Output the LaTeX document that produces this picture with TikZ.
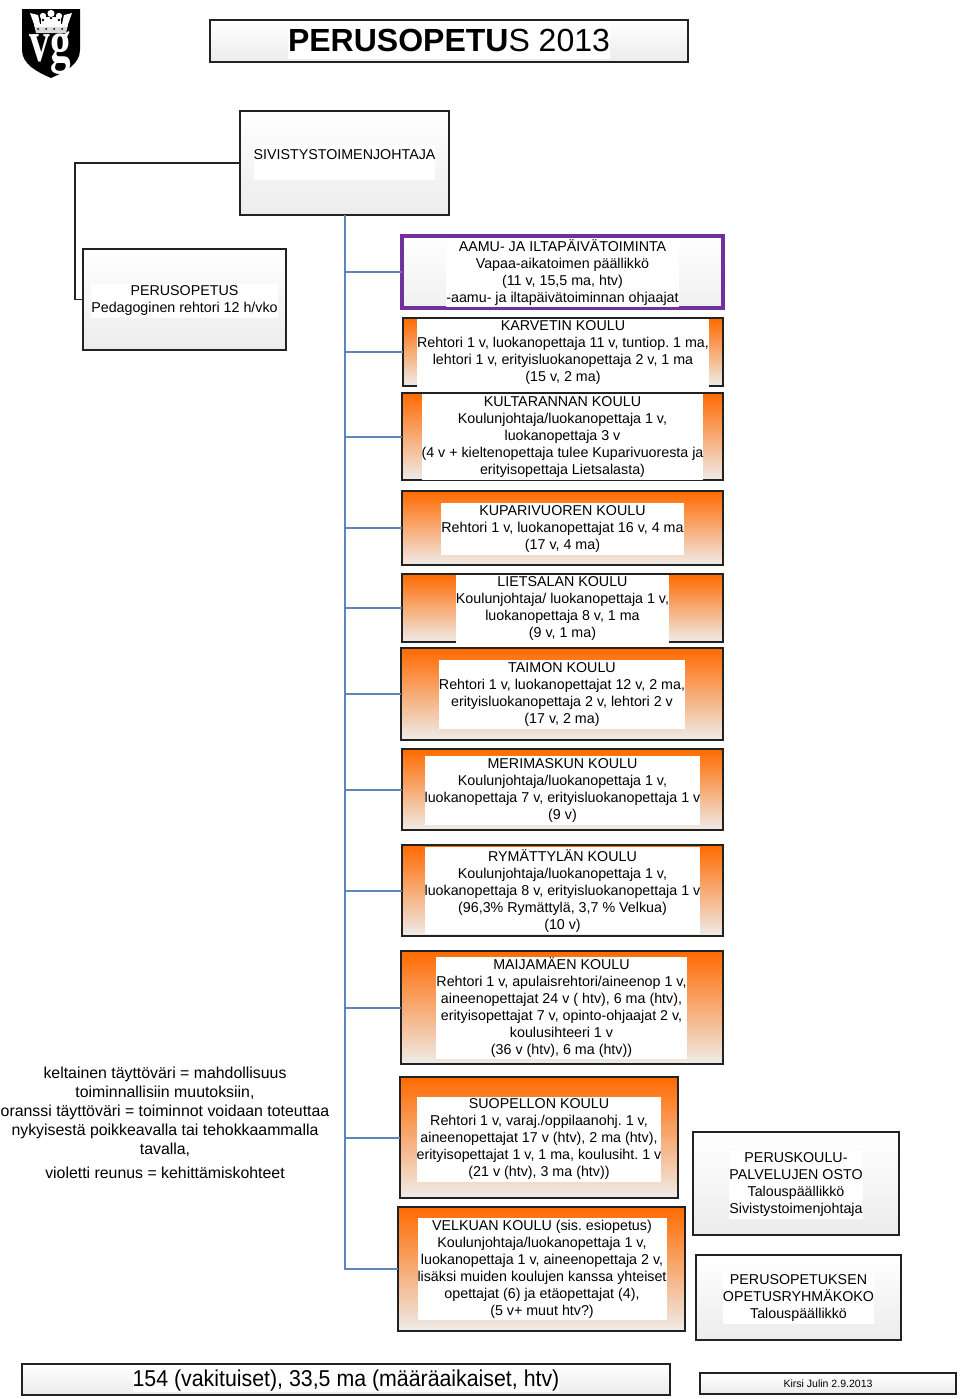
\documentclass[tikz,border=0pt]{standalone}
\usepackage{fontspec}
\setmainfont{Liberation Sans}
\newfontfamily\logofont{Liberation Serif}
\definecolor{edge}{HTML}{222222}
\definecolor{trunk}{HTML}{5B86B8}
\definecolor{violet}{HTML}{7030A0}
\definecolor{orng}{HTML}{FF6A00}
\definecolor{pale}{HTML}{EFECE9}
\tikzset{
  frame/.style={draw=edge,line width=1pt,inner sep=0pt,outer sep=0pt},
  grayfill/.style={frame,top color=white,bottom color=gray!15},
  orangefill/.style={frame,top color=orng,bottom color=pale},
  purplefill/.style={frame,draw=violet,line width=3pt,top color=white,bottom color=gray!12},
  txt/.style={fill=white,align=center,inner sep=0pt,yshift=-0.6pt,font=\fontsize{10.7}{12.75}\selectfont,text=black},
  link/.style={draw=trunk,line width=1.5pt},
  blk/.style={draw=edge,line width=1pt}
}
\newcommand{\bx}[6]{%
  \pgfmathsetmacro\bw{(#5-#3)*0.75}\pgfmathsetmacro\bh{(#6-#4)*0.75}%
  \node[#2,anchor=north west,minimum width=\bw pt,minimum height=\bh pt] (#1) at (#3,#4) {};}
\newcommand{\tx}[5]{%
  \pgfmathsetmacro\th{#4*0.75}%
  \node[txt,minimum height=\th pt] (#1) at (#2,#3) {#5};}
\begin{document}
\frenchspacing
\begin{tikzpicture}[x=0.75pt,y=-0.75pt]
\useasboundingbox (0,0) rectangle (960,1399);
\fill[white] (0,0) rectangle (960,1399);
% logo
\fill[black] (22,9) -- (80,9) -- (80,50) .. controls (80,64) and (65,72) .. (51,78) .. controls (37,72) and (22,64) .. (22,50) -- cycle;
\fill[white!85!black] (36,33) -- (66,33) -- (68,25) -- (34,25) -- cycle;
\fill[white] (30,13) -- (38,15) -- (40,24) -- (62,24) -- (64,15) -- (72,13) -- (67,27) -- (35,27) -- cycle;
\fill[white] (43,16) circle (3.2) (51,13.5) circle (3.6) (59,16) circle (3.2);
\fill[white] (41,17) -- (61,17) -- (61,25) -- (41,25) -- cycle;
\fill[black] (38,29) circle (1) (46,29) circle (1) (54,29) circle (1) (62,29) circle (1) (43,20) circle (1.3) (51,18) circle (1.3) (59,20) circle (1.3);
\node[anchor=base,inner sep=0pt,text=white,font={\logofont\bfseries\fontsize{44}{44}\selectfont},xscale=.7,transform shape] (vg) at (50.5,61) {vg};
% boxes
\bx{title}{grayfill}{210}{20}{688}{62}
\bx{sivi}{grayfill}{240}{111}{449}{215}
\bx{peru}{grayfill}{83}{249}{286}{350}
\bx{aamu}{purplefill}{402}{236}{723}{308}
\bx{karv}{orangefill}{403}{318}{723}{386}
\bx{kult}{orangefill}{402}{393}{723}{480}
\bx{kupa}{orangefill}{402}{491}{723}{565}
\bx{liet}{orangefill}{402}{574}{723}{642}
\bx{taim}{orangefill}{401}{648}{723}{740}
\bx{meri}{orangefill}{402}{749}{723}{830}
\bx{ryma}{orangefill}{402}{845}{723}{936}
\bx{maij}{orangefill}{401}{951}{723}{1064}
\bx{suop}{orangefill}{400}{1077}{678}{1198}
\bx{velk}{orangefill}{398}{1207}{685}{1331}
\bx{osto}{grayfill}{693}{1132}{899}{1235}
\bx{koko}{grayfill}{696}{1255}{901}{1340}
\bx{sum}{grayfill}{22}{1364}{670}{1395}
\bx{kirsi}{grayfill}{700}{1373}{956}{1394}
% connectors
\coordinate (bend) at (75,163);
\draw[blk] (sivi.west) -- (bend) |- (peru.west);
\foreach \n in {aamu,karv,kult,kupa,liet,taim,meri,ryma,maij,suop,velk}
  \draw[link] (sivi.south) |- (\n.west);
% texts
\node[fill=white,inner sep=0pt,minimum height=27.75pt,font={\fontsize{24}{28}\selectfont}] (titlet) at (449,40) {\textbf{PERUSOPETU}S 2013};
\tx{sivit}{344.5}{162}{35}{SIVISTYSTOIMENJOHTAJA\\\mbox{}}
\tx{perut}{184.5}{300}{34}{PERUSOPETUS\\Pedagoginen rehtori 12 h/vko}
\tx{aamut}{562.5}{272}{68}{AAMU- JA ILTAPÄIVÄTOIMINTA\\Vapaa-aikatoimen päällikkö\\(11 v, 15,5 ma, htv)\\-aamu- ja iltapäivätoiminnan ohjaajat}
\tx{karvt}{563}{352}{68}{KARVETIN KOULU\\Rehtori 1 v, luokanopettaja 11 v, tuntiop. 1 ma,\\lehtori 1 v, erityisluokanopettaja 2 v, 1 ma\\(15 v, 2 ma)}
\tx{kultt}{562.5}{436}{86}{KULTARANNAN KOULU\\Koulunjohtaja/luokanopettaja 1 v,\\luokanopettaja 3 v\\(4 v + kieltenopettaja tulee Kuparivuoresta ja\\erityisopettaja Lietsalasta)}
\tx{kupat}{562.5}{528.5}{52}{KUPARIVUOREN KOULU\\Rehtori 1 v, luokanopettajat 16 v, 4 ma\\(17 v, 4 ma)}
\tx{liett}{562.5}{608}{68}{LIETSALAN KOULU\\Koulunjohtaja/ luokanopettaja 1 v,\\luokanopettaja 8 v, 1 ma\\(9 v, 1 ma)}
\tx{taimt}{562}{694}{69}{TAIMON KOULU\\Rehtori 1 v, luokanopettajat 12 v, 2 ma,\\erityisluokanopettaja 2 v, lehtori 2 v\\(17 v, 2 ma)}
\tx{merit}{562.5}{790}{69}{MERIMASKUN KOULU\\Koulunjohtaja/luokanopettaja 1 v,\\luokanopettaja 7 v, erityisluokanopettaja 1 v\\(9 v)}
\tx{rymat}{562.5}{890}{87}{RYMÄTTYLÄN KOULU\\Koulunjohtaja/luokanopettaja 1 v,\\luokanopettaja 8 v, erityisluokanopettaja 1 v\\(96,3\% Rymättylä, 3,7 \% Velkua)\\(10 v)}
\tx{maijt}{561.5}{1007}{102}{MAIJAMÄEN KOULU\\Rehtori 1 v, apulaisrehtori/aineenop 1 v,\\aineenopettajat 24 v ( htv), 6 ma (htv),\\erityisopettajat 7 v, opinto-ohjaajat 2 v,\\koulusihteeri 1 v\\(36 v (htv), 6 ma (htv))}
\tx{suopt}{539}{1138.5}{85}{SUOPELLON KOULU\\Rehtori 1 v, varaj./oppilaanohj. 1 v,\\aineenopettajat 17 v (htv), 2 ma (htv),\\erityisopettajat 1 v, 1 ma, koulusiht. 1 v\\(21 v (htv), 3 ma (htv))}
\tx{velkt}{542}{1268.5}{102}{VELKUAN KOULU (sis. esiopetus)\\Koulunjohtaja/luokanopettaja 1 v,\\luokanopettaja 1 v, aineenopettaja 2 v,\\lisäksi muiden koulujen kanssa yhteiset\\opettajat (6) ja etäopettajat (4),\\(5 v+ muut htv?)}
\tx{ostot}{796}{1184}{68}{PERUSKOULU-\\PALVELUJEN OSTO\\Talouspäällikkö\\Sivistystoimenjohtaja}
\tx{kokot}{798.5}{1297.5}{51}{PERUSOPETUKSEN\\OPETUSRYHMÄKOKO\\Talouspäällikkö}
\node[align=center,inner sep=0pt,font={\fontsize{11.9}{14.25}\selectfont}] (legend) at (165,1123) {keltainen täyttöväri = mahdollisuus\\toiminnallisiin muutoksiin,\\oranssi täyttöväri = toiminnot voidaan toteuttaa\\nykyisestä poikkeavalla tai tehokkaammalla\\tavalla,\\[3.75pt]violetti reunus = kehittämiskohteet};
\node[fill=white,inner sep=0pt,font={\fontsize{17.2}{20}\selectfont},xscale=.93,transform shape] (sumt) at (346,1381) {154 (vakituiset), 33,5 ma (määräaikaiset, htv)};
\node[inner sep=0pt,font={\fontsize{7.9}{9}\selectfont}] (kirsit) at (828,1384) {Kirsi Julin 2.9.2013};
\end{tikzpicture}
\end{document}
